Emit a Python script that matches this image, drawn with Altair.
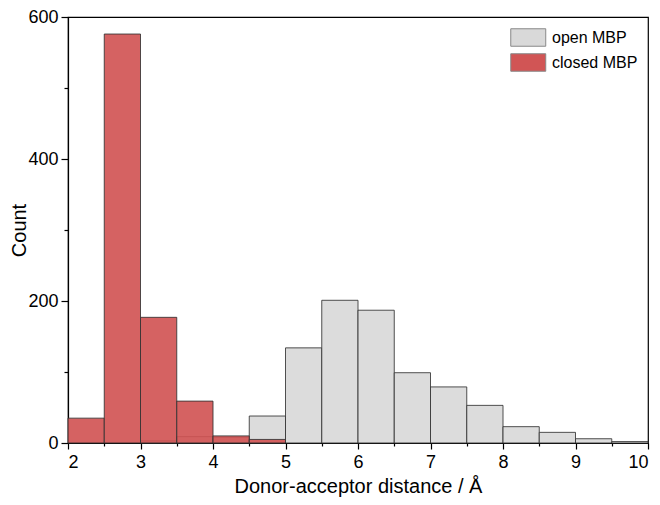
import altair as alt
import pandas as pd

bin_starts = [2.0, 2.5, 3.0, 3.5, 4.0, 4.5, 5.0, 5.5, 6.0, 6.5, 7.0, 7.5, 8.0, 8.5, 9.0, 9.5]
open_counts = [0, 0, 3, 9, 8, 38, 134, 201, 187, 99, 79, 53, 23, 15, 6, 2]
closed_counts = [35, 576, 177, 59, 10, 5, 0, 0, 0, 0, 0, 0, 0, 0, 0, 0]
series = ["open MBP", "closed MBP"]
bin_width = 0.5
x_ticks = [2, 2.5, 3, 3.5, 4, 4.5, 5, 5.5, 6, 6.5, 7, 7.5, 8, 8.5, 9, 9.5, 10]
y_ticks = [0, 100, 200, 300, 400, 500, 600]

rows = []
for name, counts in zip(series, [open_counts, closed_counts]):
    for s, c in zip(bin_starts, counts):
        if c > 0:
            rows.append({"start": s, "end": s + bin_width, "count": c, "series": name,
                         "order": series.index(name)})
df = pd.DataFrame(rows)

FONT = "Liberation Sans"
W, H = 580, 426

chart = alt.Chart(df).mark_bar(
    stroke="#333333", strokeWidth=1, strokeOpacity=0.85, fillOpacity=0.92
).encode(
    x=alt.X("start:Q", scale=alt.Scale(domain=[2, 10], nice=False, zero=False),
            axis=alt.Axis(values=x_ticks, title="Donor-acceptor distance / Å",
                          labelExpr="datum.value % 1 === 0 ? format(datum.value, 'd') : ''",
                          tickSize={"condition": {"test": "datum.value % 1 === 0", "value": 6}, "value": 3},
                          grid=False, labelPadding=4,
                          titleX=W / 2, titleY=49, titleBaseline="alphabetic", titleAlign="center")),
    x2="end:Q",
    y=alt.Y("count:Q", stack=None, scale=alt.Scale(domain=[0, 600], nice=False),
            axis=alt.Axis(values=y_ticks, title="Count", grid=False,
                          labelExpr="datum.value % 200 === 0 ? datum.label : ''",
                          tickSize={"condition": {"test": "datum.value % 200 === 0", "value": 7}, "value": 4},
                          labelPadding=3,
                          titleX=-43, titleY=H / 2, titleAngle=270, titleBaseline="alphabetic",
                          titleAlign="center")),
    y2=alt.datum(0),
    color=alt.Color("series:N", scale=alt.Scale(domain=series, range=["#d9d9d9", "#d15555"]),
                    legend=alt.Legend(title=None, orient="none", legendX=442, legendY=11,
                                      symbolType="M-1,-1H3V1H-1Z", symbolSize=306,
                                      symbolStrokeColor="#888888", symbolStrokeWidth=1,
                                      symbolOpacity=1, labelFontSize=16, labelFont=FONT,
                                      labelColor="black", rowPadding=2, labelOffset=23)),
    order=alt.Order("order:Q"),
).properties(
    width=W, height=H,
    autosize=alt.AutoSizeParams(type="none"),
    padding={"left": 60, "top": 9, "right": 4, "bottom": 54},
).configure_view(
    stroke="black", strokeWidth=1.2
).configure_axis(
    domainColor="black", tickColor="black", labelColor="black", titleColor="black",
    labelFont=FONT, titleFont=FONT, labelFontSize=18, titleFontSize=20,
    titleFontWeight="normal", domainWidth=1.2, tickWidth=1.2
)

chart.save("out.html", embed_options={"renderer": "svg", "actions": False})
